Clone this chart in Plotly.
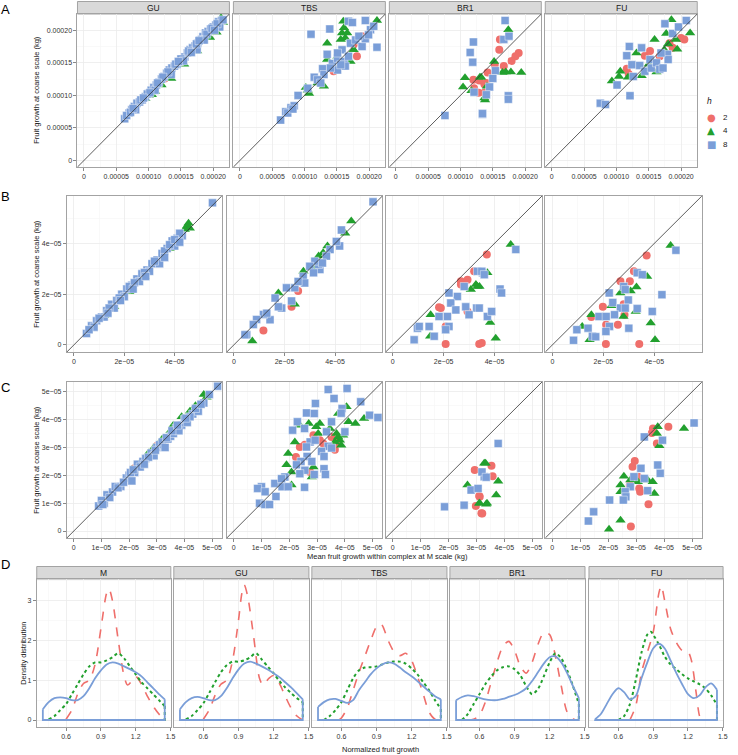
import plotly.graph_objects as go

W, H = 738, 755
FONT = "Liberation Sans"

COL = {"2": "#EF6F6B", "4": "#22A02E", "8": "#7A9ED8"}
SYM = {"2": "circle", "4": "triangle-up", "8": "square"}
GLYPH = {"2": "\u25CF", "4": "\u25B2", "8": "\u25A0"}
MSIZE = {"2": 8, "4": 9, "8": 8}
DASH = {"2": "dash", "4": "dot", "8": "solid"}
LW = {"2": 1.6, "4": 2.0, "8": 1.8}
H_LEVELS = ["2", "4", "8"]

# ---------------- Row A (values in 1e-5 kg) ----------------
A_GU_h2 = [(12.5, 12.6), (17.0, 17.2)]
A_GU_h4 = [(9.2, 9.8), (9.5, 9.5), (10.0, 10.0), (10.5, 10.1), (11.0, 10.6), (12.0, 11.6), (13.5, 12.6),
           (15.5, 14.8), (17.5, 16.8), (19.5, 18.9), (20.5, 19.7), (21.5, 21.2), (21.2, 21.9)]
A_GU_h8 = [(6.3, 6.4), (7.0, 7.3), (7.4, 7.8), (7.8, 8.3), (8.2, 8.8), (8.6, 9.0), (9.0, 9.3), (9.5, 9.8),
           (10.0, 10.3), (10.4, 10.8), (10.8, 11.2), (11.2, 11.6), (11.6, 12.0), (12.0, 12.5), (12.4, 12.9),
           (12.8, 13.4), (13.2, 13.9), (13.6, 14.2), (14.0, 14.5), (14.4, 14.8), (14.8, 15.2), (15.2, 15.5),
           (15.6, 15.9), (16.0, 16.5), (16.4, 17.0), (16.8, 17.3), (17.2, 17.6), (17.6, 18.0), (18.0, 18.5),
           (18.4, 19.0), (18.8, 19.6), (19.2, 19.8), (19.6, 20.2), (20.0, 20.5), (20.4, 20.8), (20.8, 21.3),
           (21.3, 21.5), (21.0, 20.5), (17.5, 17.0), (13.5, 13.2), (11.0, 10.8), (8.0, 7.8),
           (6.6, 6.9), (7.2, 7.4), (9.8, 10.2), (10.2, 10.4), (13.0, 13.6), (14.2, 14.8), (15.0, 15.6),
           (16.2, 16.8), (17.4, 17.9), (18.2, 18.6), (19.0, 19.4), (19.8, 20.3), (20.6, 21.0), (21.5, 21.6),
           (12.2, 12.8), (11.4, 11.9), (8.8, 9.3), (15.4, 15.3), (16.6, 16.6), (18.6, 18.5), (20.2, 20.0),
           (7.6, 8.0), (9.2, 9.6), (14.6, 15.2), (17.8, 18.4)]

A_TBS_h2 = [(18.9, 19.1), (15.6, 14.5), (14.5, 13.7), (17.6, 17.8), (18.1, 16.0)]
A_TBS_h4 = [(10.5, 10.8), (10.2, 11.2), (10.7, 10.3), (13.5, 18.0), (13.5, 15.5), (15.8, 19.6), (16.1, 20.4),
            (16.0, 21.4), (16.3, 18.8), (17.1, 15.2), (15.1, 16.0), (14.5, 14.5), (12.0, 11.9), (15.6, 18.6),
            (16.6, 19.6), (13.0, 11.4), (17.6, 17.0), (21.2, 21.5)]
A_TBS_h8 = [(6.3, 6.2), (7.1, 7.5), (7.9, 8.1), (8.4, 8.4), (9.0, 10.0), (10.5, 11.1), (11.5, 12.8), (12.8, 14.1),
            (13.0, 13.2), (13.5, 16.3), (14.3, 14.9), (15.1, 15.7), (15.8, 17.0), (16.1, 15.2), (16.8, 16.0),
            (17.1, 18.0), (17.9, 18.5), (18.9, 17.5), (19.4, 18.7), (20.2, 20.1), (20.7, 20.6), (21.2, 17.4),
            (19.4, 21.5), (16.8, 21.4), (17.4, 21.2), (11.0, 19.4), (13.9, 20.2), (12.0, 12.4), (12.5, 11.9),
            (15.1, 13.9), (16.3, 14.5), (18.4, 19.1), (19.9, 19.3), (7.4, 7.3), (8.2, 7.9), (14.0, 14.2),
            (15.1, 16.5), (15.6, 14.7)]

A_BR1_h2 = [(12.0, 12.4), (12.1, 11.1), (13.7, 10.4), (13.7, 11.7), (16.1, 18.6), (16.0, 17.0), (19.0, 16.5),
            (18.5, 16.0), (17.9, 15.3), (16.7, 14.5), (15.3, 14.7), (14.2, 13.5), (12.9, 12.3), (14.0, 11.9),
            (12.8, 10.4)]
A_BR1_h4 = [(10.7, 12.7), (10.4, 11.3), (13.2, 12.8), (11.7, 10.7), (13.7, 9.6), (17.4, 20.1), (15.2, 15.2),
            (16.5, 13.5), (17.0, 13.6), (17.8, 13.6), (19.4, 13.5), (13.0, 12.8), (14.1, 11.4), (13.8, 9.3)]
A_BR1_h8 = [(12.0, 18.2), (11.5, 16.6), (11.9, 15.1), (7.6, 6.9), (12.1, 10.5), (13.4, 7.1), (16.9, 21.5),
            (16.7, 18.6), (17.5, 19.1), (15.4, 13.8), (15.0, 12.6), (14.5, 11.3), (14.0, 10.1), (17.4, 9.95),
            (17.4, 9.4), (13.4, 7.2)]

A_FU_h2 = [(11.6, 14.1), (11.9, 13.3), (14.4, 16.1), (15.2, 16.8), (16.7, 16.0), (18.7, 17.3), (20.0, 18.8),
           (20.5, 18.6), (18.2, 18.0)]
A_FU_h4 = [(9.3, 12.2), (10.6, 13.7), (10.4, 12.9), (11.8, 12.8), (13.1, 16.5), (13.9, 13.0), (15.0, 14.8),
           (15.9, 18.6), (16.2, 13.6), (17.7, 19.5), (18.5, 21.6), (18.0, 17.9), (19.4, 17.1), (21.4, 19.6),
           (19.2, 18.6), (17.4, 17.0)]
A_FU_h8 = [(7.5, 8.8), (8.3, 8.6), (10.1, 11.6), (12.1, 9.95), (11.6, 16.1), (12.0, 17.5), (12.4, 14.7),
           (12.6, 12.9), (13.9, 17.3), (13.6, 14.6), (14.4, 13.7), (15.2, 15.5), (15.4, 14.2), (16.2, 15.0),
           (16.7, 14.0), (17.2, 14.2), (17.5, 21.0), (17.9, 16.3), (18.0, 15.5), (18.7, 19.5), (19.6, 20.5),
           (20.8, 21.5), (16.9, 16.5)]

# ---------------- Row B (values in 1e-5 kg) ----------------
B_GU_h2 = [(2.5, 2.55)]
B_GU_h4 = [(1.2, 1.15), (2.2, 2.1), (3.6, 3.75), (3.8, 3.8), (4.5, 4.7), (4.6, 4.6), (4.4, 4.55), (2.8, 2.7),
           (1.6, 1.5), (4.55, 4.8)]
B_GU_h8 = [(0.5, 0.45), (0.7, 0.75), (0.9, 0.95), (1.1, 1.1), (1.3, 1.35), (1.5, 1.6), (1.7, 1.75), (1.9, 2.0),
           (2.1, 2.2), (2.3, 2.35), (2.5, 2.6), (2.7, 2.8), (2.9, 2.95), (3.1, 3.2), (3.3, 3.35), (3.5, 3.6),
           (3.7, 3.8), (3.9, 4.1), (4.1, 4.2), (4.3, 4.3), (4.0, 3.9), (3.0, 2.9), (2.0, 1.9), (1.2, 1.1),
           (0.8, 0.7), (5.5, 5.6), (3.4, 3.2), (2.6, 2.5), (1.6, 1.45), (4.2, 4.4),
           (0.6, 0.6), (1.0, 1.05), (1.4, 1.45), (1.8, 1.85), (2.2, 2.3), (2.4, 2.45), (2.8, 2.85), (3.2, 3.3),
           (3.6, 3.7), (3.8, 3.95), (4.0, 4.15), (1.35, 1.25), (1.85, 1.75), (2.35, 2.2), (2.85, 2.7),
           (3.6, 3.45), (4.2, 4.05)]

B_TBS_h2 = [(2.54, 2.12), (2.28, 1.5), (1.17, 0.57)]
B_TBS_h4 = [(4.64, 4.88), (4.4, 4.4), (3.7, 3.9), (3.53, 3.63), (2.75, 2.9), (2.41, 1.6), (0.73, 0.15),
            (3.2, 3.04), (3.35, 3.5), (1.76, 2.05)]
B_TBS_h8 = [(5.5, 5.64), (4.25, 4.53), (4.18, 3.9), (4.05, 4.08), (3.8, 3.76), (3.4, 2.97), (3.35, 3.17),
            (3.2, 3.3), (3.0, 3.1), (2.74, 2.7), (2.41, 2.25), (2.08, 2.25), (2.28, 1.73), (1.63, 1.85),
            (1.89, 1.45), (1.43, 0.99), (1.17, 1.2), (0.9, 1.0), (0.77, 0.8), (0.51, 0.4), (2.8, 2.44),
            (3.15, 2.84), (3.66, 3.5), (3.5, 3.23), (1.76, 1.5), (1.3, 1.25), (2.54, 2.5), (0.44, 0.4)]

B_BR1_h2 = [(3.7, 3.56), (3.2, 2.9), (2.94, 2.57), (2.68, 2.51), (1.89, 1.45), (1.82, 1.48), (2.94, 1.32),
            (2.08, 0.73), (2.08, 0.04), (3.4, 0.04), (2.68, 2.38), (3.5, 0.07)]
B_BR1_h4 = [(3.27, 2.38), (3.07, 2.18), (1.49, 1.19), (1.47, 0.34), (3.33, 2.3), (4.64, 3.96), (3.72, 2.84),
            (3.41, 2.3), (3.83, 0.88), (4.05, 0.26)]
B_BR1_h8 = [(3.53, 2.84), (3.33, 2.9), (2.81, 2.3), (2.54, 1.91), (2.28, 1.65), (2.21, 2.05), (1.82, 1.12),
            (2.15, 1.12), (2.48, 1.38), (2.87, 1.5), (3.3, 1.45), (3.0, 1.19), (1.43, 0.73), (0.97, 0.66),
            (2.21, 0.73), (2.08, 0.6), (1.63, 0.34), (0.84, 0.2), (1.04, 0.73), (3.72, 1.12), (4.84, 3.76),
            (3.5, 2.9), (3.6, 2.77), (4.22, 2.2), (4.28, 2.05), (3.89, 1.32), (3.4, 1.45)]

B_FU_h2 = [(3.7, 3.52), (3.2, 2.9), (2.67, 2.51), (3.04, 2.51), (1.98, 1.5), (2.8, 1.6), (1.53, 1.1),
           (2.83, 1.19), (2.57, 0.79), (2.11, 0.79), (2.1, 0.04), (3.41, 0.04)]
B_FU_h4 = [(4.64, 3.92), (3.72, 2.7), (3.3, 2.28), (3.07, 2.12), (2.67, 2.05), (2.32, 1.54), (3.27, 1.32),
           (1.53, 1.19), (2.79, 1.12), (3.86, 0.86), (1.17, 0.73), (1.46, 0.2), (4.03, 0.2)]
B_FU_h8 = [(4.85, 3.73), (3.33, 2.84), (3.53, 2.77), (2.8, 2.3), (2.86, 2.18), (2.23, 2.05), (4.3, 1.98),
           (2.98, 1.77), (2.37, 1.67), (2.67, 1.45), (2.86, 1.45), (3.33, 1.43), (3.92, 1.32), (1.83, 1.12),
           (2.11, 1.12), (2.44, 1.19), (2.24, 0.73), (3.0, 0.66), (0.96, 0.6), (1.4, 0.66), (2.1, 0.53),
           (1.57, 0.34), (1.7, 0.32), (0.83, 0.18)]

# ---------------- Row C (values in 1e-5 kg) ----------------
C_GU_h2 = [(2.2, 2.25), (3.0, 3.05)]
C_GU_h4 = [(2.1, 2.2), (2.0, 1.95), (2.4, 2.45), (2.9, 3.0), (3.2, 3.3), (3.6, 3.8), (3.9, 4.1), (4.2, 4.3),
           (4.4, 4.5), (4.7, 4.9), (4.8, 4.8), (2.7, 2.8), (3.5, 3.6)]
C_GU_h8 = [(0.9, 0.9), (1.1, 1.0), (1.2, 1.3), (1.4, 1.4), (1.5, 1.6), (1.7, 1.6), (1.9, 1.9), (2.0, 2.0),
           (2.2, 2.1), (2.3, 2.4), (2.5, 2.5), (2.6, 2.6), (2.8, 2.8), (2.9, 2.7), (3.0, 3.0), (3.1, 3.1),
           (3.2, 3.2), (3.4, 3.3), (3.5, 3.4), (3.6, 3.5), (3.7, 3.7), (3.9, 3.8), (4.0, 4.0), (4.1, 3.9),
           (4.3, 4.2), (4.5, 4.3), (4.7, 4.6), (4.9, 4.9), (5.2, 5.2), (1.0, 1.1), (2.4, 2.3), (3.3, 3.0),
           (3.8, 3.6), (2.1, 1.8), (1.3, 1.2), (4.2, 4.1),
           (1.05, 0.95), (1.6, 1.55), (1.8, 1.75), (2.05, 2.1), (2.7, 2.65), (2.95, 2.9), (3.35, 3.35),
           (3.55, 3.6), (3.75, 3.8), (4.05, 4.05), (4.4, 4.4), (4.6, 4.55), (2.15, 2.2), (2.55, 2.4)]

C_TBS_h2 = [(2.87, 3.44), (3.1, 3.26), (3.22, 3.14), (2.38, 3.02), (2.56, 3.1), (2.24, 2.66), (3.64, 2.92),
            (3.76, 3.17), (2.75, 2.12), (3.52, 3.38)]
C_TBS_h4 = [(4.06, 4.46), (3.76, 4.22), (4.69, 4.04), (2.38, 3.8), (2.7, 3.86), (3.1, 3.86), (2.97, 3.74),
            (4.13, 3.92), (4.38, 3.86), (3.46, 3.68), (3.04, 3.5), (3.7, 3.5), (3.82, 3.26), (3.87, 3.08),
            (2.2, 3.2), (1.96, 2.78), (1.9, 2.38), (2.87, 2.3), (2.08, 2.12), (2.81, 1.94), (2.08, 1.65),
            (3.64, 3.2), (3.76, 3.38), (3.94, 3.44)]
C_TBS_h8 = [(3.4, 5.08), (4.08, 5.12), (3.61, 4.76), (4.57, 4.64), (2.94, 4.58), (3.9, 4.4), (3.87, 4.23),
            (2.62, 4.24), (2.9, 4.22), (4.89, 4.16), (5.19, 4.08), (2.29, 3.92), (2.12, 3.62), (2.55, 3.68),
            (4.0, 3.56), (3.52, 3.92), (3.34, 3.56), (2.75, 3.2), (2.93, 3.26), (2.62, 3.02), (3.4, 3.04),
            (3.16, 2.86), (3.52, 2.98), (3.25, 2.68), (2.64, 2.68), (2.42, 2.5), (2.26, 2.38), (2.81, 2.5),
            (3.25, 2.24), (3.3, 2.03), (2.56, 2.18), (2.38, 2.06), (1.84, 1.94), (2.9, 2.03), (1.48, 1.71),
            (1.74, 1.59), (1.96, 1.59), (2.55, 1.57), (1.0, 1.59), (0.86, 1.53), (1.13, 1.41), (1.52, 1.24),
            (0.93, 1.0), (1.12, 0.95), (1.29, 0.95), (1.72, 1.88)]

C_BR1_h2 = [(2.94, 2.19), (3.1, 1.26), (2.98, 0.9), (3.18, 0.64), (3.54, 2.34), (3.58, 1.97), (3.12, 1.23),
            (3.21, 0.63)]
C_BR1_h4 = [(3.28, 2.43), (2.68, 1.65), (3.1, 1.0), (3.38, 1.0), (3.33, 2.43), (3.78, 1.79), (3.71, 1.29),
            (3.35, 0.96), (3.12, 1.0)]
C_BR1_h8 = [(3.28, 1.95), (2.81, 1.47), (3.06, 1.53), (2.56, 0.93), (1.86, 0.87), (3.78, 3.14), (3.2, 2.12),
            (3.35, 1.93)]

C_FU_h2 = [(4.15, 3.74), (3.6, 3.68), (3.56, 3.52), (3.74, 3.14), (2.95, 2.51), (2.87, 2.31), (3.06, 1.95),
           (3.11, 1.53), (3.14, 1.41), (3.44, 0.96), (2.81, 0.16), (2.77, 1.65)]
C_FU_h4 = [(4.71, 3.68), (3.77, 3.74), (3.74, 3.5), (3.83, 3.06), (2.56, 1.97), (2.44, 1.65), (3.06, 1.77),
           (3.41, 1.83), (3.59, 1.77), (2.44, 1.41), (3.65, 1.35), (2.44, 0.39), (2.03, 0.06), (2.79, 1.83)]
C_FU_h8 = [(5.07, 3.88), (3.29, 3.38), (3.94, 3.26), (3.17, 2.25), (3.77, 2.37), (3.86, 2.07), (2.92, 1.95),
           (3.29, 1.89), (2.79, 1.59), (2.61, 1.41), (3.41, 1.45), (2.63, 1.23), (2.54, 1.11), (2.05, 1.11),
           (1.48, 0.69), (1.29, 0.36)]

# ---------------- Row D densities (normalized fruit growth, density) ----------------
D_M_h2 = [(0.6, 0.02), (0.65, 0.25), (0.7, 0.65), (0.75, 0.92), (0.8, 1.0), (0.85, 1.4), (0.9, 2.3), (0.95, 3.2),
          (0.97, 3.3), (1.0, 3.0), (1.05, 2.0), (1.1, 1.1), (1.13, 0.88), (1.17, 1.0), (1.2, 1.1), (1.25, 0.9),
          (1.3, 0.6), (1.35, 0.35), (1.4, 0.15), (1.45, 0.0)]
D_M_h4 = [(0.45, 0.02), (0.5, 0.1), (0.55, 0.25), (0.6, 0.4), (0.65, 0.65), (0.7, 0.9), (0.75, 1.15), (0.8, 1.35),
          (0.85, 1.45), (0.9, 1.45), (0.95, 1.5), (1.0, 1.58), (1.05, 1.68), (1.1, 1.55), (1.15, 1.35),
          (1.2, 1.15), (1.25, 0.95), (1.3, 0.8), (1.35, 0.65), (1.4, 0.5), (1.45, 0.35)]
D_M_h8 = [(0.4, 0.27), (0.45, 0.45), (0.5, 0.55), (0.55, 0.57), (0.6, 0.55), (0.65, 0.5), (0.7, 0.5), (0.75, 0.6),
          (0.8, 0.8), (0.85, 1.05), (0.9, 1.25), (0.95, 1.4), (1.0, 1.45), (1.05, 1.42), (1.1, 1.35),
          (1.15, 1.28), (1.2, 1.2), (1.25, 1.1), (1.3, 0.95), (1.35, 0.8), (1.4, 0.65), (1.45, 0.52)]

D_GU_h2 = [(0.6, 0.02), (0.65, 0.25), (0.7, 0.62), (0.75, 0.9), (0.8, 1.0), (0.85, 1.5), (0.9, 2.5), (0.93, 3.2),
           (0.95, 3.4), (0.98, 3.1), (1.03, 2.1), (1.08, 1.05), (1.11, 0.88), (1.16, 1.05), (1.2, 1.12),
           (1.25, 0.92), (1.3, 0.6), (1.35, 0.3), (1.4, 0.1), (1.45, 0.0)]
D_GU_h4 = [(0.45, 0.02), (0.5, 0.1), (0.55, 0.25), (0.6, 0.42), (0.65, 0.68), (0.7, 0.95), (0.75, 1.2),
           (0.8, 1.38), (0.85, 1.47), (0.9, 1.47), (0.95, 1.5), (1.0, 1.58), (1.05, 1.68), (1.1, 1.52),
           (1.15, 1.35), (1.2, 1.18), (1.25, 0.98), (1.3, 0.82), (1.35, 0.68), (1.4, 0.55), (1.45, 0.45)]
D_GU_h8 = [(0.4, 0.27), (0.45, 0.45), (0.5, 0.55), (0.55, 0.58), (0.6, 0.55), (0.65, 0.5), (0.7, 0.5),
           (0.75, 0.6), (0.8, 0.8), (0.85, 1.05), (0.9, 1.27), (0.95, 1.42), (1.0, 1.47), (1.05, 1.42),
           (1.1, 1.35), (1.15, 1.27), (1.2, 1.18), (1.25, 1.08), (1.3, 0.95), (1.35, 0.82), (1.4, 0.67),
           (1.45, 0.52)]

D_TBS_h2 = [(0.58, 0.0), (0.6, 0.05), (0.65, 0.3), (0.7, 0.75), (0.75, 1.2), (0.8, 1.6), (0.85, 2.0), (0.9, 2.35),
            (0.93, 2.42), (0.95, 2.38), (1.0, 2.0), (1.05, 1.72), (1.1, 1.62), (1.15, 1.68), (1.2, 1.5),
            (1.25, 1.1), (1.3, 0.65), (1.35, 0.2), (1.4, 0.02), (1.45, 0.0)]
D_TBS_h4 = [(0.45, 0.0), (0.5, 0.1), (0.55, 0.25), (0.6, 0.45), (0.65, 0.75), (0.7, 1.05), (0.75, 1.25),
            (0.8, 1.32), (0.85, 1.33), (0.9, 1.35), (0.95, 1.4), (1.0, 1.45), (1.05, 1.47), (1.1, 1.47),
            (1.15, 1.42), (1.2, 1.3), (1.25, 1.15), (1.3, 0.95), (1.35, 0.75), (1.4, 0.5), (1.45, 0.28)]
D_TBS_h8 = [(0.4, 0.33), (0.45, 0.45), (0.5, 0.52), (0.55, 0.53), (0.6, 0.48), (0.65, 0.43), (0.7, 0.5),
            (0.75, 0.75), (0.8, 0.95), (0.85, 1.15), (0.9, 1.3), (0.95, 1.4), (1.0, 1.45), (1.05, 1.42),
            (1.1, 1.32), (1.15, 1.2), (1.2, 1.1), (1.25, 0.98), (1.3, 0.85), (1.35, 0.72), (1.4, 0.6),
            (1.45, 0.52)]

D_BR1_h2 = [(0.5, 0.0), (0.55, 0.02), (0.6, 0.12), (0.65, 0.45), (0.7, 0.95), (0.75, 1.45), (0.8, 1.85),
            (0.85, 1.98), (0.9, 1.75), (0.95, 1.35), (1.0, 1.18), (1.05, 1.45), (1.1, 1.9), (1.15, 2.2),
            (1.2, 2.15), (1.25, 1.6), (1.3, 0.85), (1.35, 0.2), (1.4, 0.03), (1.45, 0.0)]
D_BR1_h4 = [(0.45, 0.0), (0.5, 0.15), (0.55, 0.4), (0.6, 0.65), (0.65, 0.9), (0.7, 1.1), (0.75, 1.25),
            (0.8, 1.33), (0.85, 1.35), (0.9, 1.28), (0.95, 1.12), (1.0, 0.85), (1.05, 0.65), (1.1, 0.78),
            (1.15, 1.1), (1.2, 1.45), (1.25, 1.68), (1.3, 1.55), (1.35, 1.25), (1.4, 0.85), (1.45, 0.4)]
D_BR1_h8 = [(0.4, 0.5), (0.45, 0.58), (0.5, 0.62), (0.55, 0.6), (0.6, 0.56), (0.65, 0.52), (0.7, 0.5),
            (0.75, 0.5), (0.8, 0.53), (0.85, 0.58), (0.9, 0.63), (0.95, 0.7), (1.0, 0.8), (1.05, 0.98),
            (1.1, 1.2), (1.15, 1.42), (1.2, 1.58), (1.25, 1.6), (1.3, 1.45), (1.35, 1.18), (1.4, 0.85),
            (1.45, 0.55)]

D_FU_h2 = [(0.7, 0.0), (0.75, 0.35), (0.8, 1.2), (0.85, 1.7), (0.9, 2.2), (0.95, 3.2), (0.97, 3.38), (1.0, 3.0),
           (1.05, 2.3), (1.1, 1.95), (1.15, 1.75), (1.2, 1.72), (1.23, 1.5), (1.27, 0.7), (1.3, 0.1),
           (1.32, 0.0)]
D_FU_h4 = [(0.6, 0.0), (0.65, 0.1), (0.7, 0.4), (0.75, 1.0), (0.8, 1.7), (0.85, 2.15), (0.88, 2.22), (0.9, 2.15),
           (0.95, 1.9), (1.0, 1.6), (1.05, 1.4), (1.1, 1.28), (1.15, 1.15), (1.2, 1.05), (1.25, 0.97),
           (1.3, 0.9), (1.35, 0.8), (1.4, 0.62), (1.45, 0.38)]
D_FU_h8 = [(0.4, 0.02), (0.45, 0.15), (0.5, 0.4), (0.55, 0.65), (0.6, 0.8), (0.65, 0.7), (0.7, 0.52), (0.75, 0.6),
           (0.8, 1.05), (0.85, 1.45), (0.9, 1.8), (0.95, 1.92), (1.0, 1.8), (1.05, 1.5), (1.1, 1.18),
           (1.15, 0.9), (1.2, 0.65), (1.25, 0.55), (1.3, 0.62), (1.35, 0.82), (1.4, 0.92), (1.45, 0.76)]

# ---------------- axis scales ----------------
A_RANGE = [-1.0, 22.5]
A_TICKS = [0, 5, 10, 15, 20]
A_TEXT = ["0", "0.00005", "0.00010", "0.00015", "0.00020"]
A_MINOR = [2.5, 7.5, 12.5, 17.5, 22.5]
B_RANGE = [-0.28, 5.87]
B_TICKS = [0, 2, 4]
B_TEXT = ["0", "2e\u221205", "4e\u221205"]
B_MINOR = [1, 3, 5]
C_RANGE = [-0.25, 5.35]
C_TICKS = [0, 1, 2, 3, 4, 5]
C_TEXT = ["0", "1e\u221205", "2e\u221205", "3e\u221205", "4e\u221205", "5e\u221205"]
C_MINOR = [0.5, 1.5, 2.5, 3.5, 4.5]
D_XRANGE = [0.3475, 1.5025]
D_XTICKS = [0.6, 0.9, 1.2, 1.5]
D_XTEXT = ["0.6", "0.9", "1.2", "1.5"]
D_XMINOR = [0.45, 0.75, 1.05, 1.35]
D_YRANGE = [-0.176, 3.55]
D_YTICKS = [0, 1, 2, 3]
D_YTEXT = ["0", "1", "2", "3"]
D_YMINOR = [0.5, 1.5, 2.5, 3.5]

# ---------------- layout geometry (pixels) ----------------
A_X = [(78, 231), (235, 388), (392, 545), (549, 702)]
A_Y = (14, 167)
BC_X = [(67.3, 223.3), (228.3, 385), (388.3, 545.7), (549, 706.7)]
B_Y = (196, 352)
C_Y = (382, 538)
D_X = [(37, 172), (175, 311), (314, 450), (453, 589), (593, 728)]
D_Y = (579, 727)
STRIP_H = 12.5

fig = go.Figure()
layout = dict(shapes=[], annotations=[])
counter = [0]

GRID = "#EBEBEB"
MINOR = "#F5F5F5"
BORDER = "#A3A3A3"
TICKFONT = dict(family=FONT, size=7, color="#333333")


def add_panel(xpx, ypx, xr, yr, xt, xtt, xm, yt, ytt, ym, show_y):
    counter[0] += 1
    n = counter[0]
    sfx = "" if n == 1 else str(n)
    common = dict(showgrid=True, gridcolor=GRID, gridwidth=0.8, zeroline=False,
                  showline=True, mirror=True, linecolor=BORDER, linewidth=1,
                  ticks="outside", ticklen=3, tickcolor="#555555", tickwidth=0.7,
                  tickfont=TICKFONT, fixedrange=True, tickmode="array")
    layout["xaxis" + sfx] = dict(common, domain=[xpx[0] / W, xpx[1] / W], range=xr, anchor="y" + sfx,
                                 tickvals=xt, ticktext=xtt,
                                 minor=dict(tickvals=xm, showgrid=True, gridcolor=MINOR, gridwidth=0.6, ticks=""))
    ya = dict(common, domain=[1 - ypx[1] / H, 1 - ypx[0] / H], range=yr, anchor="x" + sfx,
              tickvals=yt, ticktext=ytt,
              minor=dict(tickvals=ym, showgrid=True, gridcolor=MINOR, gridwidth=0.6, ticks=""))
    if not show_y:
        ya["showticklabels"] = False
        ya["ticks"] = ""
    layout["yaxis" + sfx] = ya
    return "x" + sfx, "y" + sfx


def add_strip(xpx, ytop, label):
    layout["shapes"].append(dict(type="rect", xref="paper", yref="paper",
                                 x0=xpx[0] / W, x1=xpx[1] / W,
                                 y0=1 - ytop / H, y1=1 - (ytop - STRIP_H) / H,
                                 fillcolor="#D9D9D9", line=dict(color=BORDER, width=1), layer="below"))
    layout["annotations"].append(dict(text=label, xref="paper", yref="paper",
                                      x=(xpx[0] + xpx[1]) / 2 / W, y=1 - (ytop - STRIP_H / 2) / H,
                                      showarrow=False, xanchor="center", yanchor="middle",
                                      font=dict(family=FONT, size=8.5, color="#1A1A1A")))


def add_scatter(xa, ya, groups, rng):
    for h, pts in groups:
        fig.add_trace(go.Scatter(
            x=[p[0] for p in pts], y=[p[1] for p in pts], mode="markers", xaxis=xa, yaxis=ya,
            name=h, showlegend=False,
            marker=dict(symbol=SYM[h], size=MSIZE[h], color=COL[h],
                        line=dict(color="rgba(255,255,255,0.55)", width=0.8 if h == "8" else 0)),
            hoverinfo="skip"))
    layout["shapes"].append(dict(type="line", xref=xa, yref=ya, x0=rng[0], y0=rng[0], x1=rng[1], y1=rng[1],
                                 line=dict(color="#333333", width=0.8), layer="above"))


def add_density(xa, ya, groups):
    for h, pts in groups:
        xs = [p[0] for p in pts]
        ys = [p[1] for p in pts]
        line = dict(color=COL[h], width=LW[h], dash=DASH[h])
        fig.add_trace(go.Scatter(x=xs, y=ys, mode="lines", xaxis=xa, yaxis=ya, showlegend=False,
                                 line=dict(line, shape="spline", smoothing=0.8), hoverinfo="skip"))
        fig.add_trace(go.Scatter(x=[xs[-1], xs[-1], xs[0], xs[0]], y=[ys[-1], 0, 0, ys[0]], mode="lines",
                                 xaxis=xa, yaxis=ya, showlegend=False, line=line, hoverinfo="skip"))


A_PANELS = [("GU", A_GU_h2, A_GU_h4, A_GU_h8), ("TBS", A_TBS_h2, A_TBS_h4, A_TBS_h8),
            ("BR1", A_BR1_h2, A_BR1_h4, A_BR1_h8), ("FU", A_FU_h2, A_FU_h4, A_FU_h8)]
for i, (lab, g2, g4, g8) in enumerate(A_PANELS):
    xa, ya = add_panel(A_X[i], A_Y, A_RANGE, A_RANGE, A_TICKS, A_TEXT, A_MINOR, A_TICKS, A_TEXT, A_MINOR, i == 0)
    add_strip(A_X[i], A_Y[0], lab)
    add_scatter(xa, ya, [("2", g2), ("4", g4), ("8", g8)], A_RANGE)

B_PANELS = [(B_GU_h2, B_GU_h4, B_GU_h8), (B_TBS_h2, B_TBS_h4, B_TBS_h8),
            (B_BR1_h2, B_BR1_h4, B_BR1_h8), (B_FU_h2, B_FU_h4, B_FU_h8)]
for i, (g2, g4, g8) in enumerate(B_PANELS):
    xa, ya = add_panel(BC_X[i], B_Y, B_RANGE, B_RANGE, B_TICKS, B_TEXT, B_MINOR, B_TICKS, B_TEXT, B_MINOR, i == 0)
    add_scatter(xa, ya, [("2", g2), ("4", g4), ("8", g8)], B_RANGE)

C_PANELS = [(C_GU_h2, C_GU_h4, C_GU_h8), (C_TBS_h2, C_TBS_h4, C_TBS_h8),
            (C_BR1_h2, C_BR1_h4, C_BR1_h8), (C_FU_h2, C_FU_h4, C_FU_h8)]
for i, (g2, g4, g8) in enumerate(C_PANELS):
    xa, ya = add_panel(BC_X[i], C_Y, C_RANGE, C_RANGE, C_TICKS, C_TEXT, C_MINOR, C_TICKS, C_TEXT, C_MINOR, i == 0)
    add_scatter(xa, ya, [("2", g2), ("4", g4), ("8", g8)], C_RANGE)

D_PANELS = [("M", D_M_h2, D_M_h4, D_M_h8), ("GU", D_GU_h2, D_GU_h4, D_GU_h8),
            ("TBS", D_TBS_h2, D_TBS_h4, D_TBS_h8), ("BR1", D_BR1_h2, D_BR1_h4, D_BR1_h8),
            ("FU", D_FU_h2, D_FU_h4, D_FU_h8)]
for i, (lab, g2, g4, g8) in enumerate(D_PANELS):
    xa, ya = add_panel(D_X[i], D_Y, D_XRANGE, D_YRANGE, D_XTICKS, D_XTEXT, D_XMINOR,
                       D_YTICKS, D_YTEXT, D_YMINOR, i == 0)
    add_strip(D_X[i], D_Y[0], lab)
    add_density(xa, ya, [("2", g2), ("4", g4), ("8", g8)])


def text(t, xp, yp, size=7.5, angle=0, color="#1A1A1A", anchor="center", family=FONT):
    layout["annotations"].append(dict(text=t, xref="paper", yref="paper", x=xp / W, y=1 - yp / H,
                                      showarrow=False, xanchor=anchor, yanchor="middle", textangle=angle,
                                      font=dict(family=family, size=size, color=color)))


for letter, yp in [("A", 9), ("B", 196), ("C", 387), ("D", 564)]:
    text(letter, 6, yp, size=13, color="#000000")
text("Fruit growth at coarse scale (kg)", 37, 90, angle=-90)
text("Fruit growth at coarse scale (kg)", 36, 274, angle=-90)
text("Fruit growth at coarse scale (kg)", 36, 460, angle=-90)
text("Mean fruit growth within complex at M scale (kg)", 390, 556)
text("Density distribution", 23, 653, angle=-90)
text("Normalized fruit growth", 383, 749)

# legend (key glyphs + labels)
text("<i>h</i>", 710, 101, size=8.5, anchor="left")
for k, h in enumerate(H_LEVELS):
    yk = 117 + 13.5 * k
    text(GLYPH[h], 716, yk, size=10, color=COL[h], family="DejaVu Sans")
    text(h, 726, yk, size=8, anchor="left")

fig.update_layout(
    width=W, height=H, margin=dict(l=0, r=0, t=0, b=0),
    paper_bgcolor="white", plot_bgcolor="white", showlegend=False,
    font=dict(family=FONT, size=8, color="#1A1A1A"),
    **layout)

fig.write_html("out.html", config={"displayModeBar": False, "staticPlot": True},
               post_script="document.body.style.margin='0';document.body.style.padding='0';")
